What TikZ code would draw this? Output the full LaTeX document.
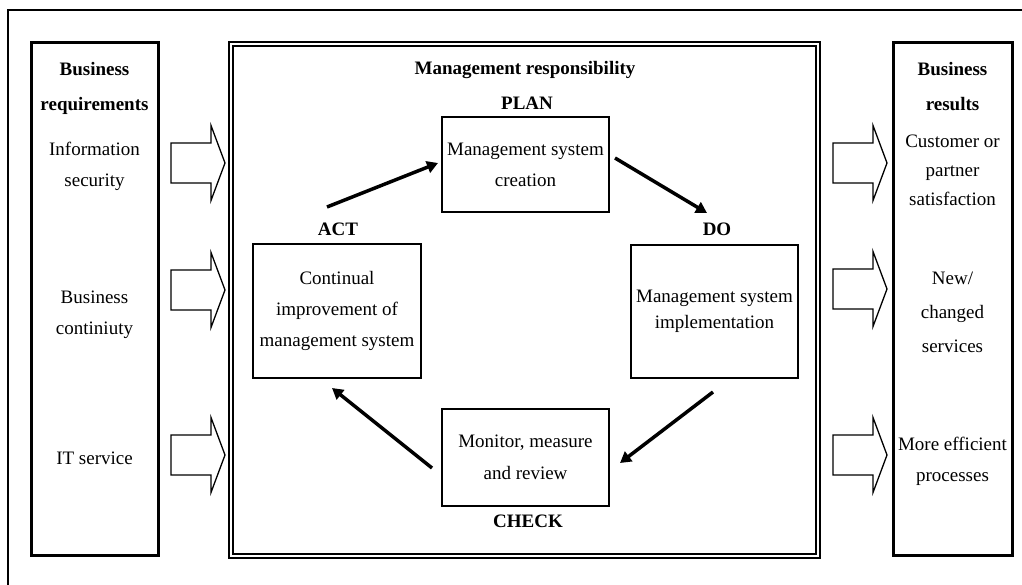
\documentclass[tikz,border=0pt]{standalone}
\usepackage{fontspec}
\setmainfont{Liberation Serif}
\usetikzlibrary{arrows.meta}
\newcommand\blkarrow[2]{%
  \draw[blk] (#1,#2-20) -- ++(40,0) -- ++(0,-17.5) -- ++(14,37.5) -- ++(-14,37.5) -- ++(0,-17.5) -- ++(-40,0) -- cycle;}
\begin{document}
\begin{tikzpicture}[x=1pt,y=-1pt,
  txt/.style={font=\fontsize{19}{31}\selectfont, align=center, inner sep=0pt},
  btxt/.style={font=\fontsize{19}{35}\selectfont\bfseries, align=center, inner sep=0pt},
  stepbox/.style={draw, line width=1.5pt, inner sep=0pt, font=\fontsize{19}{31}\selectfont, align=center},
  sidebox/.style={draw, line width=3pt, inner sep=0pt},
  cyc/.style={line width=3.5pt, -{Triangle[length=11pt,width=12pt]}},
  blk/.style={draw, line width=1.3pt, fill=white}]
\useasboundingbox (0,0) rectangle (1022,585);
% outer frame (cut by the page edge)
\draw[line width=2pt] (8,585) -- (8,10) -- (1022,10);
% side boxes
\node[sidebox, minimum width=127pt, minimum height=512pt] (req) at (94.5,299) {};
\node[sidebox, minimum width=119pt, minimum height=512pt] (res) at (952.5,299) {};
% central double box
\node[draw, line width=1.4pt, minimum width=591pt, minimum height=516pt] (mgmt) at (524.5,300) {};
\node[draw, line width=1.4pt, minimum width=583pt, minimum height=508pt] (mgmtin) at (524.5,300) {};
% left texts
\node[btxt] (reqh) at (94.5,88) {Business\\requirements};
\node[txt] (r1) at (94.5,166) {Information\\security};
\node[txt] (r2) at (94.5,315) {Business\\continiuty};
\node[txt] (r3) at (94.5,458) {IT service};
% right texts
\node[btxt] (resh) at (952.5,87) {Business\\results};
\node[txt, font=\fontsize{19}{29}\selectfont] (s1) at (952.5,170) {Customer or\\partner\\satisfaction};
\node[txt, font=\fontsize{19}{34}\selectfont] (s2) at (952.5,312) {New/\\changed\\services};
\node[txt] (s3) at (952.5,461) {More efficient\\processes};
% block arrows
\blkarrow{171}{163}
\blkarrow{171}{290}
\blkarrow{171}{455}
\blkarrow{833}{163}
\blkarrow{833}{289}
\blkarrow{833}{455}
% PDCA
\node[btxt] (mr) at (525,70) {Management responsibility};
\node[btxt] (planl) at (527,103) {PLAN};
\node[stepbox, minimum width=167pt, minimum height=95pt] (plan) at (525.5,164.5) {Management system\\creation};
\node[btxt] (actl) at (338,229) {ACT};
\node[stepbox, minimum width=168pt, minimum height=134pt] (act) at (337,311) {Continual\\improvement of\\management system};
\node[btxt] (dol) at (717,229) {DO};
\node[stepbox, minimum width=167pt, minimum height=133pt, font=\fontsize{19}{26}\selectfont] (do) at (714.5,311.5) {Management system\\implementation};
\node[stepbox, minimum width=167pt, minimum height=97pt, font=\fontsize{19}{32}\selectfont] (check) at (525.5,457.5) {Monitor, measure\\and review};
\node[btxt] (checkl) at (528,521) {CHECK};
% cycle arrows
\coordinate (a1) at (327,207); \coordinate (a2) at (438,163);
\coordinate (b1) at (615,158); \coordinate (b2) at (707,213);
\coordinate (c1) at (713,392); \coordinate (c2) at (620,463);
\coordinate (d1) at (432,468); \coordinate (d2) at (332,388);
\draw[cyc] (a1) -- (a2);
\draw[cyc] (b1) -- (b2);
\draw[cyc] (c1) -- (c2);
\draw[cyc] (d1) -- (d2);
\end{tikzpicture}
\end{document}
